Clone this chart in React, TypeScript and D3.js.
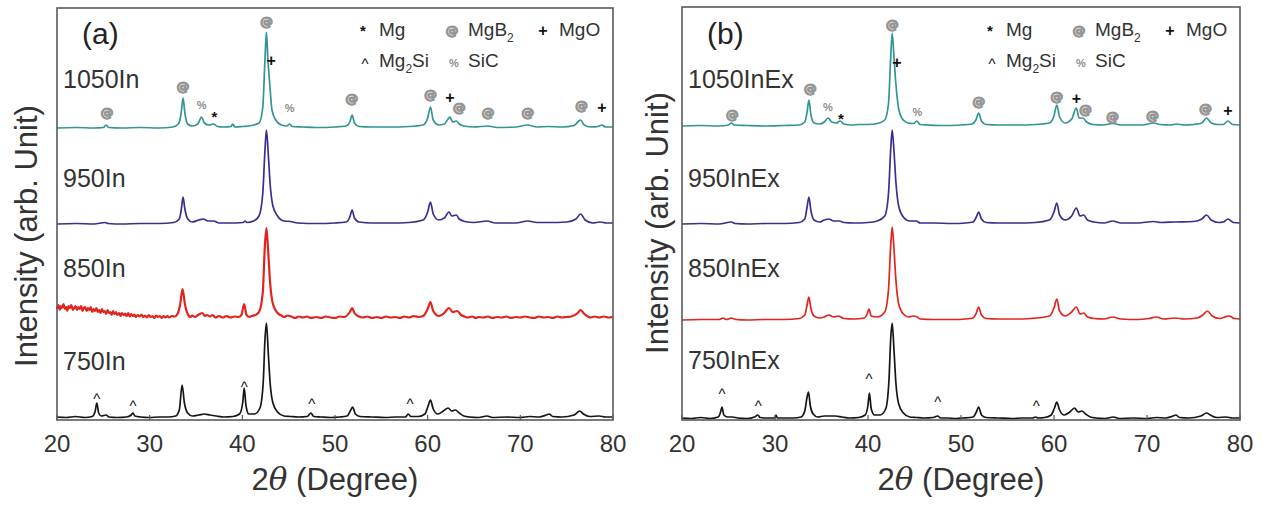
import React from 'react';
import * as d3 from 'd3';

type Pt = [number, number];
type Mk = [number, number, string];

const X_TICKS = [20, 30, 40, 50, 60, 70, 80];
const LABELS_A = ['1050In', '950In', '850In', '750In'];
const LABELS_B = ['1050InEx', '950InEx', '850InEx', '750InEx'];

// ---- Panel (a) traces: [2θ, intensity above own baseline] ----
const a1050In: Pt[] = [[20,0],[22,0.5],[24,0],[25,0.5],[25.3,3],[25.6,0.5],[27,0],[29,0.5],[31,0],[32.5,1],[33.1,4],[33.4,15],[33.6,30],[33.8,15],[34.1,4],[34.6,2],[35.2,4],[35.6,11],[35.9,5],[36.4,3],[36.9,4],[37.3,1.5],[38,1],[38.8,1.5],[38.95,4],[39.2,1],[40,1.5],[41,2.5],[41.8,5],[42.2,20],[42.45,70],[42.6,96],[42.75,70],[42.95,45],[43.2,18],[43.6,8],[44.2,3],[44.8,2],[45.1,4],[45.4,1.5],[46.5,1],[48,0.5],[50,1],[51.2,2],[51.6,6],[51.85,13],[52.1,5],[52.6,1.5],[54,1],[56,1],[58,1.5],[59.5,3],[60.0,10],[60.3,21],[60.6,8],[61.2,3],[61.8,4],[62.2,9],[62.4,11],[62.7,6],[63.1,7],[63.4,4],[63.9,2],[65,1],[66.5,2],[67.5,0.5],[69.5,1],[70.8,3],[71.8,1],[73,1.5],[74.5,1],[75.8,2.5],[76.3,7],[76.5,8],[76.9,3],[77.6,1],[78.4,1.5],[78.8,3],[79.2,1],[80,1]];
const a950In: Pt[] = [[20,0],[22,0.5],[24,0],[25.2,1.5],[25.5,0.5],[27,0],[29,0.5],[31,0.5],[32.6,1.5],[33.2,5],[33.45,17],[33.6,27],[33.8,15],[34.1,5],[34.6,2],[35.3,4],[35.8,5],[36.3,3],[36.9,3],[37.5,1],[38.5,1],[40.1,1.5],[40.3,3],[40.5,1.5],[41.2,3],[41.8,8],[42.2,30],[42.45,75],[42.6,94],[42.8,70],[43.0,40],[43.3,18],[43.8,8],[44.5,3],[45.2,2.5],[46,1],[48,0.5],[50,1],[51.2,2],[51.6,7],[51.85,14],[52.1,6],[52.6,2],[54,1],[56,1],[58,1.5],[59.5,4],[60.0,12],[60.3,22],[60.6,10],[61.2,4],[61.8,6],[62.3,12],[62.6,8],[63.1,9],[63.4,5],[64,2.5],[65,1.5],[66.4,3],[67.3,1],[69.5,1],[70.8,3],[71.8,1.5],[73,1.5],[75,2],[76.0,5],[76.5,10],[77,4],[77.8,1],[78.6,2],[79.3,1],[80,1]];
const a850In: Pt[] = [[20.0,9],[20.15,13],[20.3,8],[20.4,12],[20.55,10],[20.7,14],[20.85,9],[21.0,11],[21.1,7],[21.25,12],[21.4,10],[21.55,13],[21.7,8],[21.85,10],[22.0,12],[22.15,8],[22.3,11],[22.45,9],[22.6,12],[22.75,7],[22.9,10],[23.05,11],[23.2,7],[23.35,10],[23.5,8],[23.65,11],[23.8,6],[23.95,9],[24.1,7],[24.25,10],[24.4,6],[24.55,8],[24.7,5],[24.85,9],[25.0,6],[25.15,7],[25.3,4],[25.45,8],[25.6,5],[25.75,6],[25.9,3],[26.05,7],[26.2,4],[26.35,6],[26.5,3],[26.7,5],[26.85,2],[27.0,5],[27.2,3],[27.35,4.5],[27.5,2],[27.7,5],[27.85,1.5],[28.0,4],[28.2,2],[28.35,3.5],[28.5,1],[28.7,3],[28.9,1.5],[29.1,3.5],[29.3,1],[29.5,2.5],[29.7,0.5],[29.9,3],[30.1,1],[30.3,2],[30.5,0],[30.7,2.5],[30.9,1],[31.1,2],[31.3,0],[31.5,2],[31.7,0.5],[31.9,2],[32.1,0.5],[32.4,2],[32.7,1.5],[33.0,4],[33.3,14],[33.55,29],[33.8,14],[34.1,4],[34.4,1],[34.6,2.5],[34.9,1],[35.2,3],[35.7,5],[35.95,2],[36.2,3],[36.5,1.5],[36.8,3],[37.1,0.5],[37.5,2],[37.9,0.5],[38.3,2],[38.7,0.5],[39.2,1.5],[39.6,1],[39.9,3],[40.2,14],[40.45,3],[40.8,1],[41.0,2],[41.4,3],[41.8,6],[42.2,25],[42.45,75],[42.6,90],[42.8,65],[43.0,35],[43.3,14],[43.8,5],[44.2,2.5],[44.5,1],[44.9,2.5],[45.3,1.5],[45.7,0],[46.1,1.5],[46.5,0.5],[47,1.5],[47.4,0],[48,1],[48.5,0],[49,1.5],[49.5,0.5],[50,0],[50.5,1.5],[51,1],[51.6,6],[51.85,10],[52.1,5],[52.6,1.5],[53,0.5],[53.5,1.5],[54,0],[54.5,1],[55,0],[55.5,1.5],[56,0.5],[56.5,1],[57,0],[57.5,1.5],[58,0.5],[58.5,2],[59,1],[59.5,2],[60.0,9],[60.3,16],[60.6,7],[61.2,2],[61.8,5],[62.3,10],[62.7,6],[63.2,7],[63.6,3],[64,1.5],[64.3,0.5],[64.8,1.5],[65.2,0],[65.5,1],[66,0.5],[66.5,1.5],[67,0],[67.5,1],[68,0.5],[68.5,1.5],[69,0],[69.5,1],[70,0.5],[70.5,1.5],[71,0.5],[71.5,0],[72,1.5],[72.5,0.5],[73,1],[73.5,0],[74,1.5],[74.5,0.5],[75,1],[75.5,1.5],[76.2,5],[76.5,8],[76.9,4],[77.3,1.5],[77.6,0.5],[78,1.5],[78.5,0.5],[79,1.5],[79.5,0.5],[80,1]];
const a750In: Pt[] = [[20,1],[21,0.5],[22,1.5],[23,0.5],[23.8,1.5],[24.1,6],[24.3,15],[24.5,5],[24.8,2],[25.3,3],[25.6,1],[26.5,0.5],[27.5,1],[28.0,3],[28.2,5],[28.4,2],[29,1],[30,0.5],[31,1],[32,1],[32.8,2],[33.2,8],[33.5,33],[33.75,15],[34.1,5],[34.6,2],[35.3,3],[35.9,4],[36.5,3],[37.2,2],[38,1],[39,1.5],[39.7,4],[40.05,16],[40.2,30],[40.4,12],[40.7,4],[41.3,4],[41.9,10],[42.25,35],[42.45,80],[42.6,95],[42.8,65],[43.0,35],[43.3,15],[43.8,6],[44.5,2],[45.2,1.5],[46,1],[47.0,1.5],[47.4,5],[47.7,1.5],[48.5,1],[49.5,0.5],[50.5,1],[51.3,2],[51.65,7],[51.9,11],[52.2,4],[52.7,1.5],[54,1],[55.5,0.5],[56.5,1],[57.6,1],[57.9,4],[58.2,1.5],[59,1.5],[59.7,4],[60.05,12],[60.3,18],[60.6,9],[61.1,4],[61.7,7],[62.2,10],[62.6,7],[63.0,8],[63.4,5],[63.9,2],[64.5,1],[65.5,0.5],[66.4,2],[67,0.5],[68.5,1],[70,0.5],[71,1.5],[72,1],[72.8,3],[73.1,4],[73.5,1.5],[74.5,1],[75.8,3],[76.4,7],[76.8,4],[77.5,1.5],[78.5,2],[79.2,1],[80,1]];

// ---- Panel (b) traces ----
const b1050InEx: Pt[] = [[20,0],[22,0.5],[24,0],[25.0,1],[25.3,3],[25.6,1],[27,0.5],[29,0],[31,0.5],[32.6,1],[33.2,4],[33.45,14],[33.65,26],[33.85,12],[34.2,3],[34.8,2],[35.3,4],[35.7,8],[36.1,4],[36.6,3],[37.0,5],[37.4,2],[38.2,1],[39,1.5],[40,1.5],[41,2.5],[41.8,6],[42.2,22],[42.45,70],[42.6,93],[42.8,68],[43.0,42],[43.3,17],[43.7,7],[44.3,3],[44.9,2.5],[45.25,5],[45.6,1.5],[46.5,1],[48,0.5],[50,1],[51.2,2],[51.6,6],[51.9,13],[52.2,5],[52.7,1.5],[54,1],[56,1],[58,1.5],[59.5,3],[60.0,10],[60.3,21],[60.6,9],[61.2,3],[61.9,7],[62.4,18],[62.7,8],[63.1,8],[63.5,4],[64.2,1.5],[65.3,1],[66.3,2.5],[67.2,1],[69.5,1],[70.7,3],[71.4,1.5],[72.5,1],[73.2,2],[74,1],[75,1.5],[75.9,3],[76.4,8],[76.9,3],[77.6,1.5],[78.2,1.5],[78.7,5],[79.2,1.5],[80,1]];
const b950InEx: Pt[] = [[20,0],[22,0.5],[24,0],[25.3,2],[25.7,0.5],[27,0],[29,0.5],[31,0.5],[32.6,1.5],[33.2,5],[33.45,17],[33.65,27],[33.85,14],[34.2,4],[34.8,2],[35.3,4],[35.8,5],[36.3,3],[36.9,3],[37.4,1.5],[38.5,1],[40,1.5],[41,3],[41.8,8],[42.2,30],[42.45,76],[42.6,94],[42.8,72],[43.0,42],[43.3,18],[43.8,7],[44.5,3],[45.2,3],[45.6,1],[47,1],[49,0.5],[50.5,1],[51.3,2],[51.65,7],[51.9,12],[52.2,5],[52.7,1.5],[54,1],[56,1],[58,1.5],[59.5,4],[60.0,12],[60.3,21],[60.6,9],[61.2,4],[61.9,8],[62.4,16],[62.8,8],[63.2,9],[63.6,4],[64.3,2],[65.4,1],[66.3,3],[67.2,1],[69,1],[70.7,2.5],[71.5,1.5],[73,2],[75,2.5],[75.9,5],[76.4,9],[76.9,4],[77.7,1.5],[78.2,2],[78.7,5],[79.3,1.5],[80,1]];
const b850InEx: Pt[] = [[20,0],[22,0.5],[24,0.5],[24.4,2],[24.8,0.5],[25.3,2],[25.8,0.5],[27,0],[29,0.5],[31,0.5],[32.6,1.5],[33.2,5],[33.45,15],[33.65,23],[33.85,12],[34.2,4],[34.8,2],[35.3,3],[35.8,5],[36.3,3],[36.8,4],[37.4,1.5],[38.5,1],[39.6,2],[39.95,7],[40.1,11],[40.35,4],[41,3],[41.8,8],[42.2,30],[42.45,76],[42.6,93],[42.8,70],[43.0,40],[43.3,16],[43.8,6],[44.4,3],[44.8,4],[45.2,3.5],[45.6,1],[47,0.5],[49,0.5],[50.5,1],[51.3,2],[51.65,7],[51.9,13],[52.2,5],[52.7,1.5],[54,1],[56,1],[57.5,1.5],[59.5,4],[60.0,12],[60.3,21],[60.6,9],[61.2,4],[61.9,8],[62.4,13],[62.8,6],[63.2,7],[63.6,3],[64.3,1.5],[65.4,1],[66.3,3],[67.2,1],[69,0.5],[70.2,1.5],[71,3],[71.8,1],[73,2],[74,1],[75.4,2],[76.0,5],[76.5,9],[77,4],[77.8,1.5],[78.8,4],[79.4,1.5],[80,1]];
const b750InEx: Pt[] = [[20,1],[21,0.5],[22,1.5],[23,0.5],[23.9,2],[24.15,7],[24.3,12],[24.5,4],[24.9,2],[25.4,2],[26,1],[27,0.5],[27.8,2],[28.15,4],[28.4,1.5],[29,1],[30,1],[30.1,4],[30.25,1],[31,1],[32,1],[32.8,2],[33.2,8],[33.45,22],[33.6,27],[33.8,13],[34.1,5],[34.6,2],[35.3,3],[35.8,3],[36.5,3],[37.2,2],[38,1],[39,1.5],[39.7,4],[40.0,14],[40.15,26],[40.35,10],[40.7,4],[41.3,4],[41.9,10],[42.25,38],[42.45,82],[42.6,96],[42.8,68],[43.0,36],[43.3,15],[43.8,6],[44.5,2],[45.2,1.5],[46,1],[47.0,1.5],[47.5,3],[47.8,1],[48.5,1],[49.5,0.5],[50.2,1],[51.3,2],[51.65,7],[51.9,12],[52.2,4],[52.7,1.5],[54,1],[55.5,0.5],[56.5,1],[57.7,1],[58.0,2],[58.3,1],[59,1.5],[59.7,4],[60.05,11],[60.3,17],[60.6,9],[61.1,4],[61.7,7],[62.2,11],[62.6,7],[63.0,8],[63.4,5],[63.9,2],[64.5,1],[65.5,0.5],[66.4,2],[67,0.5],[68.5,1],[70,0.5],[71,1.5],[72,1],[72.8,3],[73.1,4],[73.5,1.5],[74.5,1],[75.8,3],[76.4,6],[76.8,4],[77.5,1.5],[78.5,2],[79.2,1],[80,1]];

// stacking offsets (intensity units) for 1050, 950, 850, 750
const OFFSETS_A = [292, 196, 102, 2];
const OFFSETS_B = [294, 196, 100, 1];

// phase markers: [2θ, level above trace baseline, symbol]
const MARKS_A_TOP: Mk[] = [[25.4,15,'@'],[33.6,41,'@'],[35.6,23,'%'],[37.0,15,'*'],[42.6,106,'@'],[43.1,68,'+'],[45.1,20,'%'],[51.8,29,'@'],[60.3,33,'@'],[62.4,31,'+'],[63.4,20,'@'],[66.5,15,'@'],[70.8,15,'@'],[76.6,22,'@'],[78.8,21,'+']];
const MARKS_A_BOT: Mk[] = [[24.3,23,'^'],[28.2,16,'^'],[40.2,35,'^'],[47.5,18,'^'],[58.1,18,'^']];
const MARKS_B_TOP: Mk[] = [[25.4,11,'@'],[33.8,37,'@'],[35.7,19,'%'],[37.1,11,'*'],[42.6,101,'@'],[43.1,64,'+'],[45.3,14,'%'],[51.9,24,'@'],[60.3,29,'@'],[62.4,28,'+'],[63.4,16,'@'],[66.3,9,'@'],[70.6,10,'@'],[76.3,17,'@'],[78.7,16,'+']];
const MARKS_B_BOT: Mk[] = [[24.3,29,'^'],[28.2,17,'^'],[40.1,44,'^'],[47.5,21,'^'],[58.1,17,'^']];

const COLORS = ['#339494', '#3a2e8e', '#e3231d', '#161616'];
const FONT = "'Liberation Sans', Arial, Helvetica, sans-serif";

function Symbol({ x, y, s }: { x: number; y: number; s: string }) {
  const style: Record<string, { fill: string; size: number; dy: number; weight: number; stroke: number; font: string }> = {
    '@': { fill: '#959595', size: 13, dy: 0.3, weight: 700, stroke: 1.1, font: "'DejaVu Sans', sans-serif" },
    '%': { fill: '#8c8c8c', size: 11, dy: 0.36, weight: 700, stroke: 0, font: FONT },
    '*': { fill: '#111', size: 15, dy: 0.6, weight: 700, stroke: 0, font: FONT },
    '+': { fill: '#111', size: 16, dy: 0.35, weight: 700, stroke: 0, font: FONT },
    '^': { fill: '#111', size: 15, dy: 0.6, weight: 400, stroke: 0, font: FONT },
  };
  const st = style[s];
  return (
    <text x={x} y={y + st.dy * st.size} textAnchor="middle" fontSize={st.size} fontWeight={st.weight} fill={st.fill}
      stroke={st.stroke ? st.fill : 'none'} strokeWidth={st.stroke} fontFamily={st.font}>
      {s}
    </text>
  );
}

interface PanelProps {
  L: number; R: number; T: number; B: number;
  traces: Pt[][]; offsets: number[]; labels: string[]; labelYs: number[];
  marksTop: Mk[]; marksBot: Mk[]; tag: string; yTitleX: number; yTitleY: number; redWidth: number;
}

function Panel(p: PanelProps) {
  const x = d3.scaleLinear().domain([20, 80]).range([p.L, p.R]);
  const y = d3.scaleLinear().domain([0, 412]).range([420, 8]);
  const cx = (p.L + p.R) / 2;
  return (
    <g>
      {p.traces.map((tr, i) => {
        const line = d3.line<Pt>().x(d => x(d[0])).y(d => y(d[1] + p.offsets[i])).curve(d3.curveMonotoneX);
        return <path key={i} d={line(tr) || ''} fill="none" stroke={COLORS[i]} strokeWidth={i === 2 ? p.redWidth : 1.7} strokeLinejoin="round" />;
      })}
      {p.marksTop.map((m, i) => <Symbol key={'t' + i} x={x(m[0])} y={y(p.offsets[0] + m[1])} s={m[2]} />)}
      {p.marksBot.map((m, i) => <Symbol key={'b' + i} x={x(m[0])} y={y(p.offsets[3] + m[1])} s={m[2]} />)}
      <rect x={p.L} y={p.T} width={p.R - p.L} height={p.B - p.T} fill="none" stroke="#5a5a5a" strokeWidth={1.6} />
      {X_TICKS.map(t => (
        <g key={t}>
          <line x1={x(t)} x2={x(t)} y1={p.B} y2={p.B - 5} stroke="#5a5a5a" strokeWidth={1.2} />
          <text x={x(t)} y={452} textAnchor="middle" fontSize={24} fill="#333" fontFamily={FONT}>{t}</text>
        </g>
      ))}
      <text x={cx} y={490} textAnchor="middle" fontSize={31} fill="#333" fontFamily={FONT}>
        <tspan>2</tspan><tspan fontStyle="italic" fontFamily="'DejaVu Serif', serif">θ</tspan><tspan>{'\u00a0(Degree)'}</tspan>
      </text>
      <text transform={`translate(${p.yTitleX},${p.yTitleY}) rotate(-90)`} textAnchor="middle" fontSize={31} fill="#333" fontFamily={FONT}>
        Intensity (arb. Unit)
      </text>
      <text x={p.L + 25} y={44} fontSize={30} fill="#222" fontFamily={FONT}>{p.tag}</text>
      {p.labels.map((lb, i) => (
        <text key={lb} x={p.L + 6} y={p.labelYs[i]} fontSize={25} fill="#333" fontFamily={FONT}>{lb}</text>
      ))}
      <g fontFamily={FONT} fontSize={19} fill="#333">
        <Symbol x={p.R - 250} y={27} s="*" />
        <text x={p.R - 234} y={36}>Mg</text>
        <Symbol x={p.R - 161} y={31} s="@" />
        <text x={p.R - 145} y={36}>MgB<tspan fontSize={12} dy={6}>2</tspan></text>
        <Symbol x={p.R - 70} y={30} s="+" />
        <text x={p.R - 54} y={36}>MgO</text>
        <Symbol x={p.R - 248} y={60} s="^" />
        <text x={p.R - 234} y={67}>Mg<tspan fontSize={12} dy={6}>2</tspan><tspan dy={-6}>Si</tspan></text>
        <Symbol x={p.R - 159} y={63} s="%" />
        <text x={p.R - 145} y={67}>SiC</text>
      </g>
    </g>
  );
}

export default function App() {
  return (
    <svg width={1266} height={505} style={{ position: 'absolute', left: 0, top: 0, background: '#fff' }}>
      <rect width={1266} height={505} fill="#fff" />
      <Panel L={57} R={613} T={8} B={420} traces={[a1050In, a950In, a850In, a750In]} offsets={OFFSETS_A}
        labels={LABELS_A} labelYs={[88, 187, 277, 370]} marksTop={MARKS_A_TOP} marksBot={MARKS_A_BOT}
        tag="(a)" yTitleX={37} yTitleY={236} redWidth={2.2} />
      <Panel L={682} R={1240} T={7} B={420} traces={[b1050InEx, b950InEx, b850InEx, b750InEx]} offsets={OFFSETS_B}
        labels={LABELS_B} labelYs={[88, 187, 277, 369]} marksTop={MARKS_B_TOP} marksBot={MARKS_B_BOT}
        tag="(b)" yTitleX={668} yTitleY={223} redWidth={1.7} />
    </svg>
  );
}
